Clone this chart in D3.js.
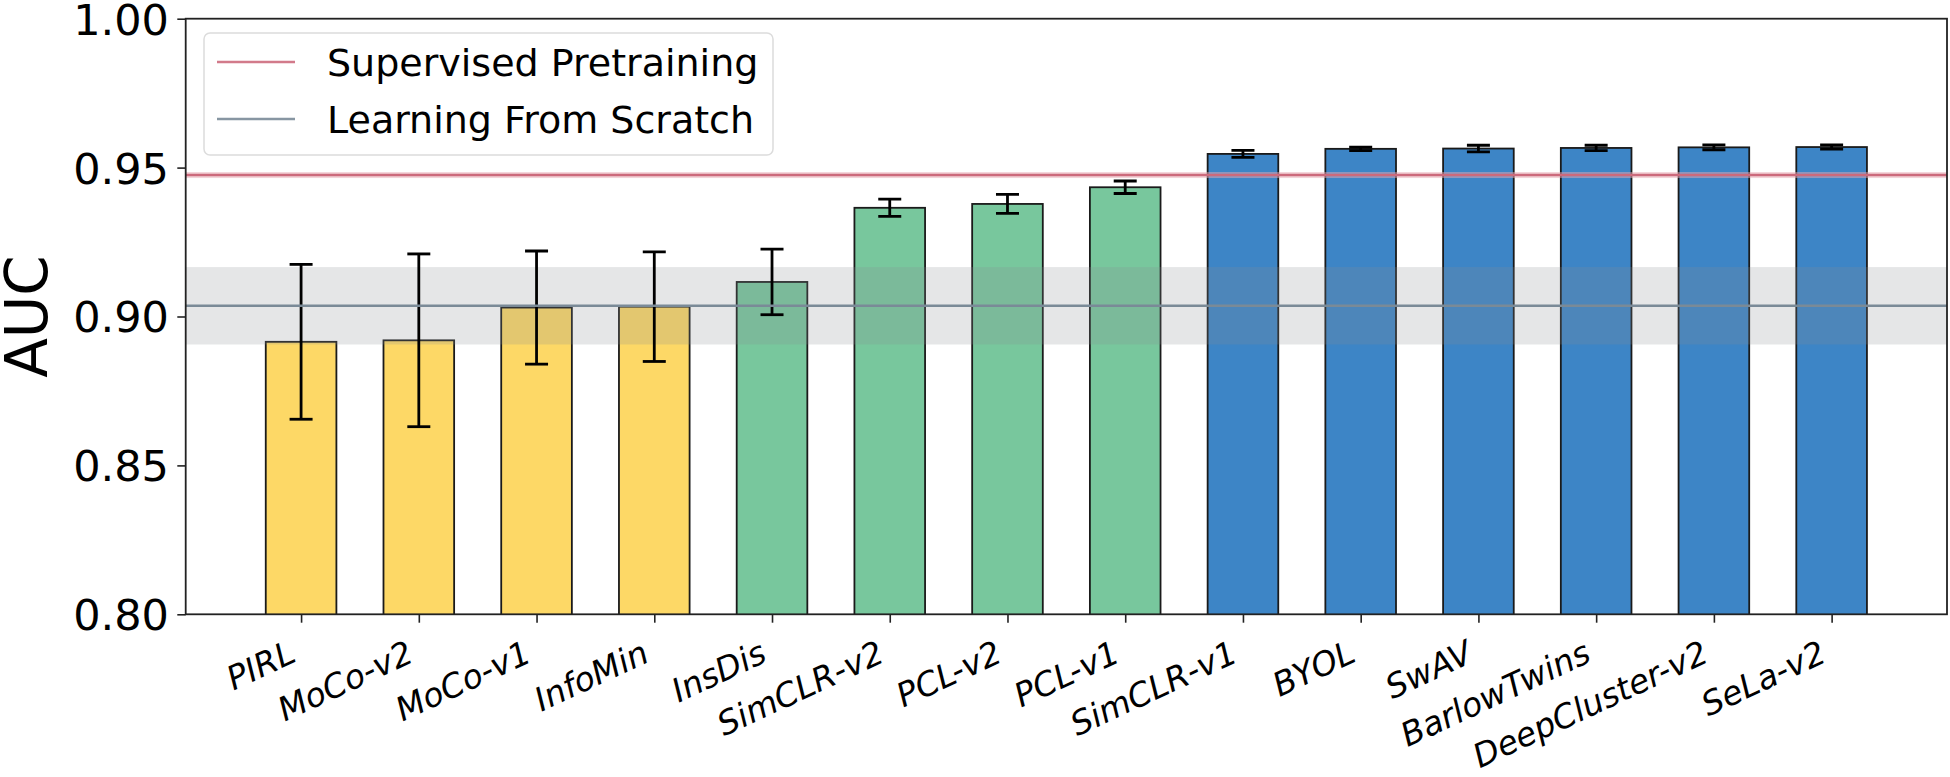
<!DOCTYPE html>
<html>
<head>
<meta charset="utf-8">
<script src="https://cdn.jsdelivr.net/npm/d3@7"></script>
<style>
  html, body { margin: 0; padding: 0; background: #ffffff; }
  svg { display: block; }
  text { font-family: "DejaVu Sans", sans-serif; fill: #000; }
</style>
</head>
<body>
<svg id="chart" width="1950" height="777"></svg>
<script>
// ---- data ----
const categories = ["PIRL", "MoCo-v2", "MoCo-v1", "InfoMin", "InsDis", "SimCLR-v2", "PCL-v2", "PCL-v1",
                    "SimCLR-v1", "BYOL", "SwAV", "BarlowTwins", "DeepCluster-v2", "SeLa-v2"];
const aucMean = [0.8915, 0.8920, 0.9030, 0.9033, 0.9116, 0.9365, 0.9378, 0.9434,
                 0.9546, 0.9563, 0.9564, 0.9566, 0.9568, 0.9569];
const aucErr  = [0.0260, 0.0290, 0.0190, 0.0184, 0.0110, 0.0029, 0.0032, 0.0021,
                 0.0012, 0.0006, 0.0011, 0.0009, 0.0008, 0.0007];
const groups  = ["A", "A", "A", "A", "B", "B", "B", "B", "C", "C", "C", "C", "C", "C"];
const groupColors = { A: "#fdd866", B: "#78c79d", C: "#3d85c6" };
const supervisedMean = 0.9475;
const supervisedStd = 0.0005;
const scratchMean = 0.9036;
const scratchStd = 0.0130;
const yTicks = [0.80, 0.85, 0.90, 0.95, 1.00];
const yDomain = [0.80, 1.00];
const legendLabels = ["Supervised Pretraining", "Learning From Scratch"];

// ---- layout ----
const svg = d3.select("#chart");
const plot = { left: 185.7, right: 1947, top: 18.7, bottom: 614.3 };
const n = categories.length;
const barW = 0.6;
const span = (n - 1) + barW;
const x = d3.scaleLinear()
  .domain([-barW / 2 - 0.05 * span, n - 1 + barW / 2 + 0.05 * span])
  .range([plot.left, plot.right]);
const y = d3.scaleLinear().domain(yDomain).range([plot.bottom, plot.top]);

const g = svg.append("g");

svg.append("defs").append("clipPath").attr("id", "clip")
  .append("rect").attr("x", plot.left).attr("y", plot.top)
  .attr("width", plot.right - plot.left).attr("height", plot.bottom - plot.top);

const inner = g.append("g").attr("clip-path", "url(#clip)");

// bars
const barPx = x(barW) - x(0);
inner.selectAll("rect.bar").data(categories).enter().append("rect")
  .attr("class", "bar")
  .attr("x", (d, i) => x(i) - barPx / 2)
  .attr("width", barPx)
  .attr("y", (d, i) => y(aucMean[i]))
  .attr("height", (d, i) => y(yDomain[0]) - y(aucMean[i]) + 2)
  .attr("fill", (d, i) => groupColors[groups[i]])
  .attr("stroke", "#1a1a1a")
  .attr("stroke-width", 1.8);

// scratch band (semi-transparent grey, darkens the bars it covers)
inner.append("rect")
  .attr("x", plot.left).attr("width", plot.right - plot.left)
  .attr("y", y(scratchMean + scratchStd))
  .attr("height", y(scratchMean - scratchStd) - y(scratchMean + scratchStd))
  .attr("fill", "#878b91").attr("fill-opacity", 0.22);

// supervised band
inner.append("rect")
  .attr("x", plot.left).attr("width", plot.right - plot.left)
  .attr("y", y(supervisedMean + supervisedStd) - 1.5)
  .attr("height", y(supervisedMean - supervisedStd) - y(supervisedMean + supervisedStd) + 3)
  .attr("fill", "#e8a9b4").attr("fill-opacity", 0.5);

// error bars
const cap = 11.5;
const eb = inner.selectAll("g.eb").data(categories).enter().append("g").attr("class", "eb")
  .attr("stroke", "#000").attr("stroke-width", 2.8);
eb.append("line")
  .attr("x1", (d, i) => x(i)).attr("x2", (d, i) => x(i))
  .attr("y1", (d, i) => y(aucMean[i] - aucErr[i]))
  .attr("y2", (d, i) => y(aucMean[i] + aucErr[i]));
eb.append("line")
  .attr("x1", (d, i) => x(i) - cap).attr("x2", (d, i) => x(i) + cap)
  .attr("y1", (d, i) => y(aucMean[i] - aucErr[i]))
  .attr("y2", (d, i) => y(aucMean[i] - aucErr[i]));
eb.append("line")
  .attr("x1", (d, i) => x(i) - cap).attr("x2", (d, i) => x(i) + cap)
  .attr("y1", (d, i) => y(aucMean[i] + aucErr[i]))
  .attr("y2", (d, i) => y(aucMean[i] + aucErr[i]));

// reference lines
inner.append("line")
  .attr("x1", plot.left).attr("x2", plot.right)
  .attr("y1", y(supervisedMean)).attr("y2", y(supervisedMean))
  .attr("stroke", "#cc6a7c").attr("stroke-width", 2.4);
inner.append("line")
  .attr("x1", plot.left).attr("x2", plot.right)
  .attr("y1", y(scratchMean)).attr("y2", y(scratchMean))
  .attr("stroke", "#7a8a97").attr("stroke-width", 2.4);

// frame
g.append("rect")
  .attr("x", plot.left).attr("y", plot.top)
  .attr("width", plot.right - plot.left).attr("height", plot.bottom - plot.top)
  .attr("fill", "none").attr("stroke", "#222").attr("stroke-width", 1.8);

// y axis
const yAxis = d3.axisLeft(y).tickValues(yTicks).tickFormat(d3.format(".2f"))
  .tickSize(8.4).tickPadding(8.4);
const ya = g.append("g").attr("transform", `translate(${plot.left},0)`).call(yAxis);
ya.select(".domain").remove();
ya.selectAll(".tick line").attr("stroke", "#222").attr("stroke-width", 1.6);
ya.selectAll(".tick text").style("font-size", "43px").style("font-family", "DejaVu Sans")
  .attr("dy", "0.36em");

// x axis ticks
const xAxis = d3.axisBottom(x).tickValues(d3.range(n)).tickFormat("").tickSize(8.4);
const xa = g.append("g").attr("transform", `translate(0,${plot.bottom})`).call(xAxis);
xa.select(".domain").remove();
xa.selectAll(".tick line").attr("stroke", "#222").attr("stroke-width", 1.6);

// x labels rotated, right-aligned to tick
const fs = 33;
const angle = 25;
const rad = angle * Math.PI / 180;
const capTop = 639;
g.selectAll("text.xl").data(categories).enter().append("text")
  .attr("class", "xl")
  .attr("text-anchor", "end")
  .style("font-size", fs + "px")
  .style("font-style", "italic")
  .attr("transform", (d, i) => {
    const x0 = x(i) - 0.24 * fs * Math.sin(rad);
    const y0 = capTop + 0.73 * fs * Math.cos(rad);
    return `translate(${x0},${y0}) rotate(${-angle})`;
  })
  .text(d => d);

// y label
g.append("text")
  .attr("transform", `translate(47,${(plot.top + plot.bottom) / 2}) rotate(-90)`)
  .attr("text-anchor", "middle")
  .style("font-size", "58px")
  .text("AUC");

// legend
const lg = g.append("g");
lg.append("rect")
  .attr("x", 204).attr("y", 33).attr("width", 569).attr("height", 122)
  .attr("rx", 6).attr("ry", 6)
  .attr("fill", "#fff").attr("fill-opacity", 0.8)
  .attr("stroke", "#dcdcdc").attr("stroke-width", 1.5);
const legendColors = ["#d27a8a", "#8796a2"];
const legendY = [62, 119];
legendLabels.forEach((lab, i) => {
  lg.append("line").attr("x1", 217).attr("x2", 295)
    .attr("y1", legendY[i]).attr("y2", legendY[i])
    .attr("stroke", legendColors[i]).attr("stroke-width", 2.4);
  lg.append("text").attr("x", 327).attr("y", legendY[i]).attr("dy", "0.36em")
    .style("font-size", "38px").text(lab);
});
</script>
</body>
</html>
